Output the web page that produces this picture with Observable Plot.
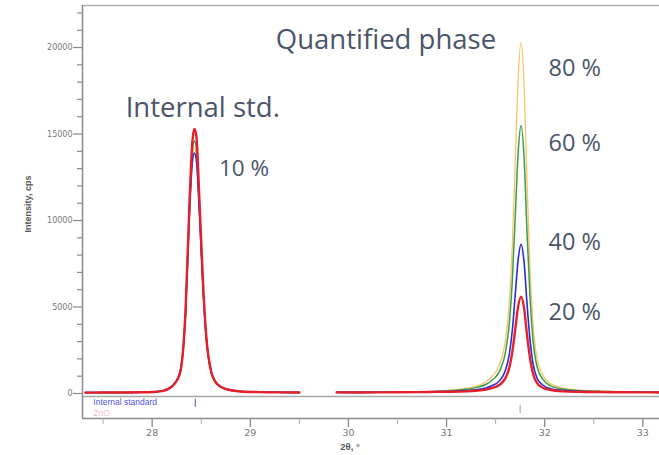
<!DOCTYPE html>
<html>
<head>
<meta charset="utf-8">
<script src="https://cdn.jsdelivr.net/npm/d3@7"></script>
<script src="https://cdn.jsdelivr.net/npm/@observablehq/plot@0.6"></script>
<style>
  html, body { margin: 0; padding: 0; background: #fff; }
  #chart svg { display: block; }
</style>
</head>
<body>
<div id="chart"></div>
<script>
// Diffraction scan, 2θ in degrees; null marks the skipped range between the two windows.
const twoTheta = [
  27.32, 27.5, 27.7, 27.9, 28.0, 28.1, 28.2, 28.28, 28.34, 28.38, 28.41, 28.43, 28.45, 28.48,
  28.52, 28.55, 28.6, 28.66, 28.75, 28.9, 29.1, 29.3, 29.5, 29.7,
  29.88, 30.1, 30.3, 30.5, 30.7, 30.9, 31.05, 31.2, 31.3, 31.4, 31.46, 31.54, 31.6, 31.64,
  31.67, 31.7, 31.73, 31.76, 31.79, 31.82, 31.85, 31.88, 31.92, 31.98, 32.06, 32.2, 32.4,
  32.6, 32.8, 33.0, 33.17
];

// Intensity (cps) for each mixture, listed by the quantified-phase content.
const seriesNames = ["80 %", "60 %", "40 %", "20 %"];
const intensity80 = [
  55, 58, 62, 72, 88, 145, 410, 1120, 4600, 10300, 13600, 14200, 13800, 10600,
  5800, 3200, 1250, 540, 255, 118, 80, 66, 60, null,
  72, 68, 72, 80, 95, 130, 200, 300, 420, 670, 970, 1680, 3100, 5320,
  8560, 13420, 18280, 20300, 17870, 12200, 7350, 4110, 2080, 1070, 570, 300, 180,
  140, 100, 85, 80
];
const intensity60 = [
  52, 57, 61, 71, 86, 142, 405, 1110, 4700, 10600, 14000, 14600, 14200, 10900,
  6000, 3300, 1270, 550, 258, 119, 79, 66, 60, null,
  70, 66, 71, 78, 90, 122, 170, 245, 340, 520, 755, 1295, 2375, 4075,
  6545, 10250, 13960, 15500, 13650, 9325, 5620, 3150, 1600, 830, 445, 245, 150,
  120, 90, 80, 75
];
const intensity40 = [
  55, 60, 62, 75, 90, 150, 420, 1150, 4600, 10400, 13400, 13900, 13500, 10600,
  5900, 3300, 1300, 570, 270, 125, 85, 68, 62, null,
  68, 64, 70, 76, 86, 112, 120, 165, 215, 315, 445, 745, 1345, 2285,
  3655, 5710, 7765, 8620, 7590, 5195, 3140, 1770, 915, 490, 275, 165, 110,
  95, 80, 72, 70
];
const intensity20 = [
  50, 55, 60, 70, 85, 140, 400, 1100, 4800, 11000, 14600, 15300, 14900, 11400,
  6200, 3400, 1300, 560, 260, 120, 80, 65, 60, null,
  66, 62, 66, 70, 78, 92, 100, 125, 160, 225, 310, 505, 890, 1500,
  2390, 3720, 5050, 5600, 4935, 3385, 2055, 1170, 615, 335, 200, 125, 90,
  80, 70, 65, 62
];
const seriesValues = [intensity80, intensity60, intensity40, intensity20];
const seriesColors = ["#f3c56c", "#3e9b48", "#2b2bd6", "#e5202a"];
const seriesWidths = [1.3, 1.5, 1.6, 2.4];

// Reference peak positions shown in the phase strip under the scan.
const phaseNames = ["Internal standard", "ZnO"];
const phasePositions = [28.44, 31.75];
const phaseColors = ["#4444e0", "#f09aa8"];

// Axis ticks and texts.
const xMajorTicks = [28, 29, 30, 31, 32, 33];
const xMinorTicks = [27.5, 28.5, 29.5, 30.5, 31.5, 32.5];
const yMajorTicks = [0, 5000, 10000, 15000, 20000];
const yMinorTicks = [1000, 2000, 3000, 4000, 6000, 7000, 8000, 9000, 11000, 12000, 13000, 14000,
  16000, 17000, 18000, 19000, 21000, 22000];
const xTitle = "2θ, °";
const yTitle = "Intensity, cps";
const titlePhase = "Quantified phase";
const titleStd = "Internal std.";
const stdShare = "10 %";

const rows = [];
seriesNames.forEach((name, s) => {
  twoTheta.forEach((t, i) => rows.push({series: name, t, v: seriesValues[s][i]}));
});

const xDomain = [27.29, 33.17];
const yDomain = [-1445, 22430];
const axisGray = "#8a8a8a";
const textColor = "#4a5569";
const annFont = "'Open Sans', 'Noto Sans', sans-serif";
const tickFont = "'DejaVu Sans', Verdana, sans-serif";
const smallFont = "'Liberation Sans', Arial, sans-serif";

const marks = [
  // frame lines: top border, plot floor, left axis and bottom axis
  Plot.ruleY([yDomain[1]], {stroke: "#b0b0b0", strokeWidth: 1.5}),
  Plot.ruleY([-175], {stroke: "#a8a8a8", strokeWidth: 1.5}),
  Plot.ruleY([yDomain[0]], {stroke: axisGray, strokeWidth: 1.5}),
  Plot.ruleX([xDomain[0]], {stroke: axisGray, strokeWidth: 1.5}),

  // y axis ticks
  Plot.axisY(yMinorTicks, {tickSize: 5, tickFormat: () => "", stroke: axisGray, strokeWidth: 1.2, label: null}),
  Plot.axisY(yMajorTicks, {tickSize: 9, tickPadding: 1, fontSize: 8, fill: "#777",
    fontFamily: tickFont, stroke: axisGray, strokeWidth: 1.2, label: null, tickFormat: d => String(d)}),

  // x axis ticks, hanging below the axis line
  Plot.axisX(xMinorTicks, {tickSize: 6, tickFormat: () => "", stroke: "#aaa", label: null}),
  Plot.axisX(xMajorTicks, {tickSize: 9, tickPadding: 2, fontSize: 9.5, fill: "#777",
    fontFamily: tickFont, stroke: axisGray, strokeWidth: 1.3, label: null, tickFormat: d => String(d)}),

  // phase strip
  Plot.text(phaseNames, {x: () => 27.40, y: (d, i) => [-520, -1130][i],
    fill: (d, i) => phaseColors[i], fontSize: 8.5, textAnchor: "start",
    fontFamily: smallFont, fillOpacity: (d, i) => i ? 0.7 : 0.95}),
  Plot.ruleX(phasePositions, {y1: (d, i) => [-330, -680][i], y2: (d, i) => [-800, -1160][i],
    stroke: (d, i) => i ? "#c8a0a8" : "#6a6ad8", strokeWidth: 1.2}),

  // scans, lowest concentration drawn on top
  ...seriesNames.map((name, s) => Plot.line(rows.filter(r => r.series === name), {
    x: "t", y: "v", stroke: seriesColors[s], strokeWidth: seriesWidths[s],
    curve: "monotone-x", strokeLinejoin: "round"
  })),

  // annotations
  Plot.text([titlePhase], {x: () => 29.26, y: () => 20450, textAnchor: "start",
    fontSize: 27.5, fill: textColor, fontFamily: annFont}),
  Plot.text([titleStd], {x: () => 27.73, y: () => 16500, textAnchor: "start",
    fontSize: 27.5, fill: textColor, fontFamily: annFont}),
  Plot.text([stdShare], {x: () => 28.68, y: () => 13000, textAnchor: "start",
    fontSize: 22.5, fill: textColor, fontFamily: annFont}),
  Plot.text(seriesNames, {x: () => 32.04, y: (d, i) => [18790, 14450, 8730, 4680][i], textAnchor: "start",
    fontSize: 23.5, fill: textColor, fontFamily: annFont}),

  // axis titles
  Plot.text([yTitle], {frameAnchor: "left", textAnchor: "middle", dx: -54, dy: -8, rotate: -90,
    fontSize: 9, fontWeight: "bold", fill: "#555", fontFamily: smallFont}),
  Plot.text([xTitle], {frameAnchor: "bottom", textAnchor: "middle", dx: -21, dy: 31,
    fontSize: 9.5, fontWeight: "bold", fill: "#555", fontFamily: smallFont})
];

const chart = Plot.plot({
  width: 659,
  height: 455,
  marginLeft: 82,
  marginRight: 0,
  marginTop: 5,
  marginBottom: 37,
  x: {domain: xDomain},
  y: {domain: yDomain},
  style: {background: "#fff", fontFamily: smallFont, overflow: "visible"},
  marks
});
document.getElementById("chart").appendChild(chart);
</script>
</body>
</html>
